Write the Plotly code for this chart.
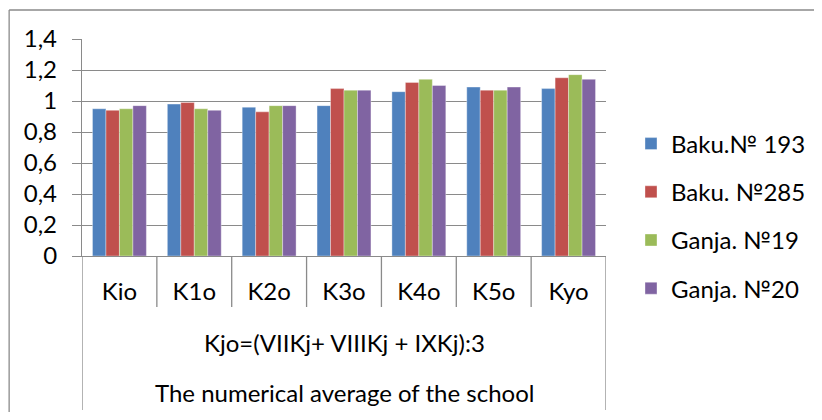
import plotly.graph_objects as go

categories = ["Kio", "K1o", "K2o", "K3o", "K4o", "K5o", "Kyo"]
series_names = ["Baku.№ 193", "Baku. №285", "Ganja. №19", "Ganja. №20"]
baku_193 = [0.95, 0.98, 0.96, 0.97, 1.06, 1.09, 1.08]
baku_285 = [0.94, 0.99, 0.93, 1.08, 1.12, 1.07, 1.15]
ganja_19 = [0.95, 0.95, 0.97, 1.07, 1.14, 1.07, 1.17]
ganja_20 = [0.97, 0.94, 0.97, 1.07, 1.10, 1.09, 1.14]
series_values = [baku_193, baku_285, ganja_19, ganja_20]
colors = ["#4F81BD", "#C0504D", "#9BBB59", "#8064A2"]
level2_label = "Kjo=(VIIKj+ VIIIKj + IXKj):3"
level3_label = "The numerical average of the school"
y_ticks = [0, 0.2, 0.4, 0.6, 0.8, 1.0, 1.2, 1.4]

FONT = "Lato"
FS = 24
GRID = "#8a8a8a"

# The page body has an 8px default margin, so the figure is laid out
# 8px smaller and shifted accordingly (page coords used below).
fig = go.Figure()
for name, vals, col in zip(series_names, series_values, colors):
    fig.add_trace(go.Bar(
        x=categories, y=vals, name=name, legendgroup=name,
        marker=dict(color=col, line=dict(width=0.6, color="rgba(255,255,255,0.6)")),
    ))

# paper-coordinate helpers (plot area in page px: x 82..607, y 39..256)
def py(p):
    return (256 - p) / 217.0

def px(p):
    return (p - 82) / 525.0

shapes = []
n = len(categories)
for i in range(1, n):
    shapes.append(dict(type="line", xref="x", yref="paper", x0=i - 0.5, x1=i - 0.5,
                       y0=0, y1=py(307), line=dict(color=GRID, width=1.3)))
for xv in (-0.5, n - 0.5):
    shapes.append(dict(type="line", xref="x", yref="paper", x0=xv, x1=xv,
                       y0=0, y1=py(410), line=dict(color=GRID, width=1.3)))
# outer chart border (left and top, cropped on right/bottom)
shapes.append(dict(type="line", xref="paper", yref="paper", x0=px(9), x1=px(9),
                   y0=py(10), y1=py(440), line=dict(color=GRID, width=1.3)))
shapes.append(dict(type="line", xref="paper", yref="paper", x0=px(9), x1=px(840),
                   y0=py(10), y1=py(10), line=dict(color=GRID, width=1.3)))

annotations = [
    dict(text=level2_label, xref="paper", yref="paper", x=0.5, y=py(342),
         showarrow=False, xanchor="center", yanchor="middle",
         font=dict(family=FONT, size=FS, color="#000")),
    dict(text=level3_label, xref="paper", yref="paper", x=0.5, y=py(392),
         showarrow=False, xanchor="center", yanchor="middle",
         font=dict(family=FONT, size=FS, color="#000")),
]

fig.update_layout(
    width=814, height=404,
    margin=dict(l=74, r=215, t=31, b=156),
    paper_bgcolor="white", plot_bgcolor="white",
    separators=",.",
    barmode="group", bargap=0.28, bargroupgap=0,
    font=dict(family=FONT, size=FS, color="#000"),
    showlegend=True,
    legend=dict(x=px(631), xanchor="left", y=py(216), yanchor="middle",
                traceorder="grouped", tracegroupgap=14,
                font=dict(family=FONT, size=FS, color="#000"),
                bgcolor="rgba(0,0,0,0)"),
    shapes=shapes, annotations=annotations,
)
fig.update_xaxes(type="category", range=[-0.5, n - 0.5], showgrid=False,
                 showline=True, linecolor=GRID, linewidth=1.3,
                 ticks="", ticklabelstandoff=14, automargin=False,
                 tickfont=dict(family=FONT, size=FS, color="#000"))
fig.update_yaxes(range=[0, 1.4], tickvals=y_ticks, showgrid=True, gridcolor=GRID,
                 gridwidth=1.3, showline=True, linecolor=GRID, linewidth=1.3,
                 ticks="outside", ticklen=9, tickcolor=GRID, tickwidth=1.3,
                 ticklabelstandoff=10, zeroline=False, automargin=False,
                 tickfont=dict(family=FONT, size=FS, color="#000"))

fig.write_html("out.html")
